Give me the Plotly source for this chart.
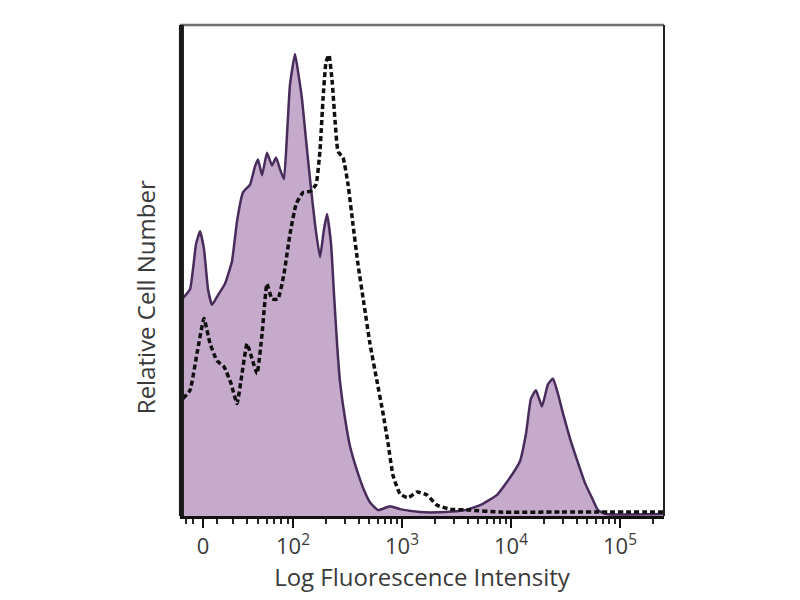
import math
import plotly.graph_objects as go

# Display positions in decades (biexponential axis), counts as % of max
filled_x = [0.982, 1.055, 1.110, 1.147, 1.183, 1.220, 1.257, 1.312, 1.376, 1.440,
            1.486, 1.541, 1.606, 1.651, 1.679, 1.716, 1.761, 1.807, 1.844, 1.881,
            1.917, 1.945, 1.972, 2.018, 2.046, 2.083, 2.119, 2.156, 2.202, 2.248,
            2.284, 2.312, 2.349, 2.376, 2.404, 2.431, 2.477, 2.523, 2.587, 2.651,
            2.706, 2.780, 2.890, 2.982, 3.165, 3.394, 3.578, 3.716, 3.872, 4.018,
            4.083, 4.138, 4.183, 4.229, 4.284, 4.339, 4.385, 4.431, 4.477, 4.541,
            4.615, 4.679, 4.743, 4.798, 4.872, 5.41]
filled_y = [44.2, 46.2, 55.4, 58.0, 54.4, 46.2, 43.0, 45.0, 47.3, 51.9,
            60.0, 65.9, 67.5, 71.2, 72.6, 69.4, 74.0, 71.4, 73.0, 70.6,
            68.6, 77.7, 87.8, 94.1, 90.5, 84.8, 76.7, 68.6, 59.4, 52.7,
            58.4, 61.5, 55.4, 45.2, 35.1, 27.4, 19.9, 14.2, 9.3, 5.3,
            2.8, 1.2, 2.0, 1.4, 0.8, 0.8, 1.2, 2.2, 4.3, 8.7,
            11.2, 16.8, 23.9, 25.6, 22.3, 26.8, 28.0, 24.9, 20.9, 15.8,
            10.8, 6.7, 3.7, 1.2, 0.4, 0.4]

control_x = [0.991, 1.055, 1.119, 1.183, 1.239, 1.303, 1.367, 1.431, 1.486, 1.532,
             1.578, 1.624, 1.670, 1.716, 1.761, 1.807, 1.862, 1.917, 1.972, 2.028,
             2.092, 2.156, 2.211, 2.248, 2.275, 2.303, 2.330, 2.358, 2.385, 2.413,
             2.459, 2.505, 2.550, 2.596, 2.651, 2.706, 2.771, 2.826, 2.872, 2.917,
             2.982, 3.055, 3.138, 3.229, 3.321, 3.440, 3.624, 3.899, 4.450, 5.41]
control_y = [23.9, 25.6, 33.1, 40.2, 35.1, 31.6, 30.4, 27.0, 22.9, 29.0,
             35.1, 32.0, 29.0, 37.1, 47.3, 44.2, 44.2, 49.3, 57.4, 63.5,
             65.9, 66.1, 67.5, 74.6, 84.8, 92.5, 93.9, 88.8, 80.7, 74.2,
             73.0, 67.5, 59.4, 51.3, 43.2, 35.1, 27.4, 20.9, 14.8, 8.3,
             4.5, 3.7, 4.9, 4.3, 2.2, 1.4, 1.2, 0.8, 0.8, 0.8]

tick_vals = [1.174, 2, 3, 4, 5]
tick_text = ["0", "10<sup>2</sup>", "10<sup>3</sup>", "10<sup>4</sup>", "10<sup>5</sup>"]

minor_vals = [1.02, 1.08, 1.30, 1.45, 1.58, 1.68, 1.76, 1.83, 1.89, 1.95]
for n in (2, 3, 4, 5):
    for k in range(2, 10):
        v = n + math.log10(k)
        if v < 5.40:
            minor_vals.append(round(v, 3))

fig = go.Figure()
fig.add_trace(go.Scatter(
    x=filled_x, y=filled_y, mode="lines", fill="tozeroy",
    fillcolor="rgb(198,170,204)",
    line=dict(color="rgb(72,44,92)", width=2.5, shape="spline", smoothing=0.4),
    showlegend=False, hoverinfo="skip"))
fig.add_trace(go.Scatter(
    x=control_x, y=control_y, mode="lines",
    line=dict(color="rgb(15,15,15)", width=3.5, dash="5px,3px", shape="spline", smoothing=0.4),
    showlegend=False, hoverinfo="skip"))

fig.update_layout(
    width=800, height=600,
    margin=dict(l=172, r=144, t=17, b=92),
    paper_bgcolor="white", plot_bgcolor="white",
    font=dict(family="Open Sans, sans-serif", color="#3a3a3a"),
    xaxis=dict(
        range=[0.963, 5.404], showgrid=False, zeroline=False,
        tickmode="array", tickvals=tick_vals, ticktext=tick_text,
        ticks="outside", ticklen=9, tickwidth=2, tickcolor="#111",
        tickfont=dict(size=22, color="#3a3a3a"),
        showline=True, linecolor="#111", linewidth=2.5,
        minor=dict(tickmode="array", tickvals=minor_vals, ticks="outside",
                   ticklen=5, tickwidth=1.5, tickcolor="#222"),
        title=dict(text="Log Fluorescence Intensity", font=dict(size=24, color="#3a3a3a"), standoff=6),
    ),
    yaxis=dict(
        range=[0, 100], showgrid=False, zeroline=False, showticklabels=False,
        ticks="", showline=False,
    ),
    annotations=[
        dict(text="Relative Cell Number", xref="paper", yref="paper",
             x=-0.072, y=0.446, textangle=-90, showarrow=False,
             xanchor="center", yanchor="middle",
             font=dict(size=24, color="#3a3a3a")),
    ],
    shapes=[
        dict(type="line", xref="paper", yref="paper", x0=0, x1=1, y0=1, y1=1,
             line=dict(color="#6e6e6e", width=2.5)),
        dict(type="line", xref="paper", yref="paper", x0=1, x1=1, y0=0, y1=1,
             line=dict(color="#222", width=2)),
        dict(type="line", xref="paper", yref="paper", x0=0.003, x1=0.003, y0=0, y1=1,
             line=dict(color="#1a1a1a", width=5)),
    ],
)

fig.write_html("out.html")
